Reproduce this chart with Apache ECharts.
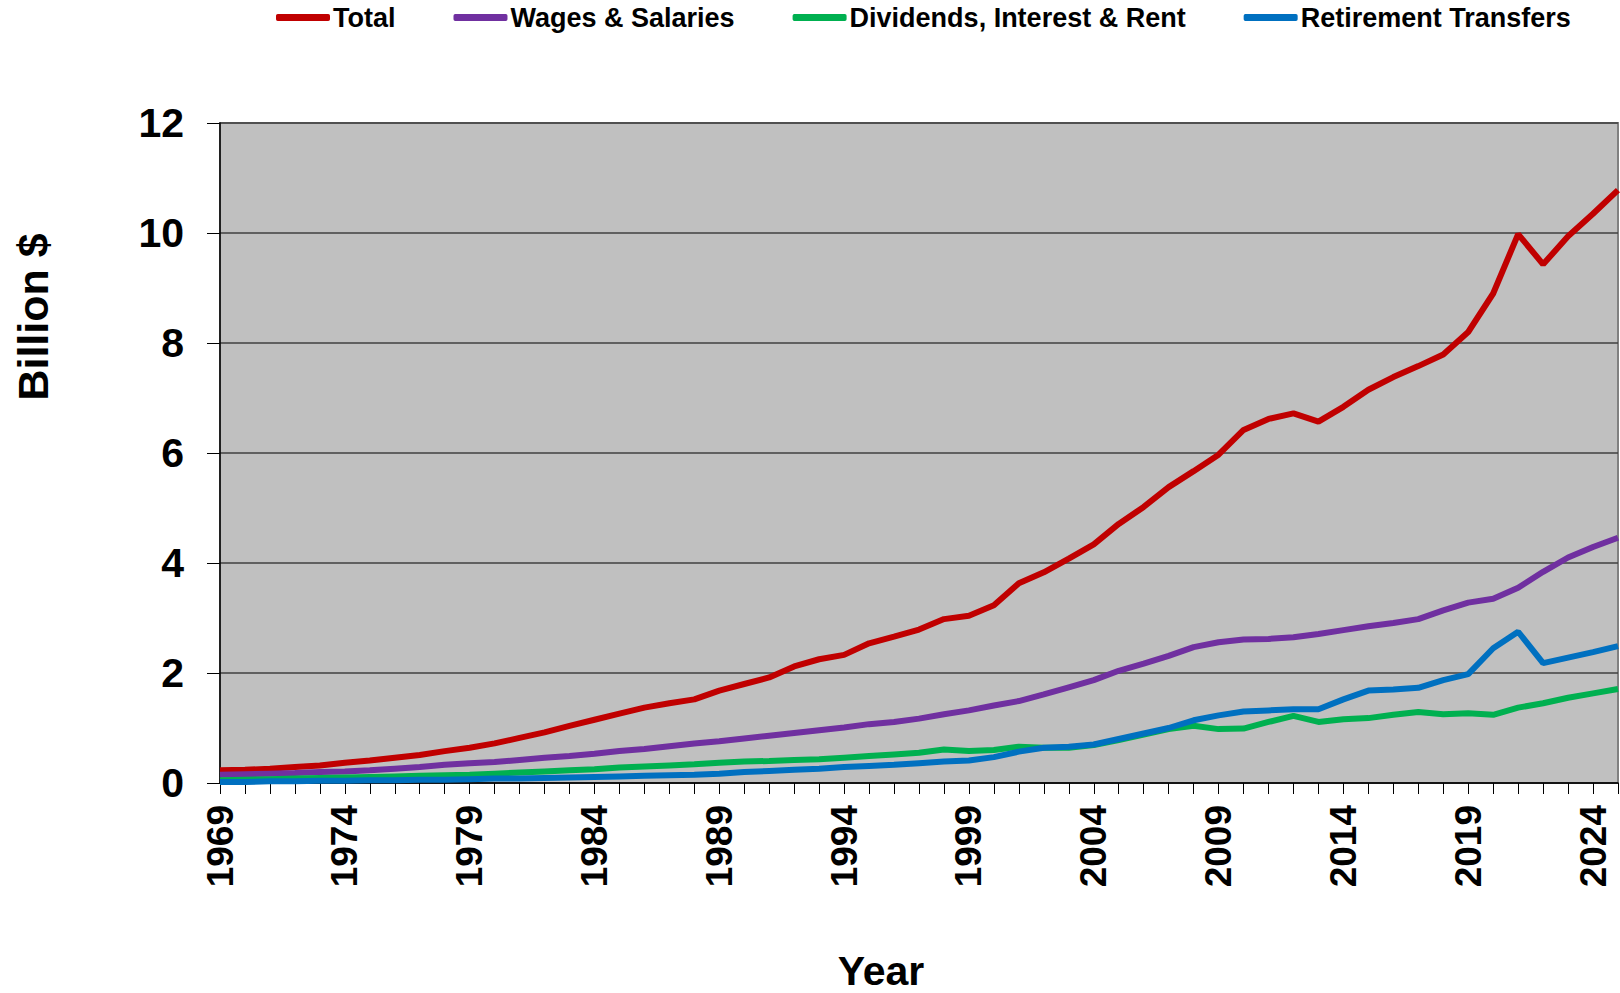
<!DOCTYPE html>
<html>
<head>
<meta charset="utf-8">
<style>
html,body{margin:0;padding:0;background:#fff;}
#chart{width:1620px;height:993px;}
</style>
<script src="https://cdn.jsdelivr.net/npm/echarts@6/dist/echarts.min.js"></script>
</head>
<body>
<div id="chart"></div>
<script>
const years = [];
for (let y = 1969; y <= 2025; y++) years.push(String(y));

const total = [0.23,0.24,0.26,0.29,0.32,0.37,0.41,0.46,0.51,0.58,0.64,0.72,0.82,0.92,1.04,1.15,1.26,1.37,1.45,1.52,
  1.68,1.80,1.92,2.12,2.25,2.33,2.54,2.66,2.79,2.98,3.04,3.23,3.63,3.83,4.08,4.34,4.71,5.02,5.38,5.67,
  5.97,6.42,6.62,6.72,6.57,6.84,7.15,7.38,7.58,7.79,8.20,8.90,9.98,9.43,9.94,10.35,10.78];
const wages = [0.15,0.16,0.17,0.18,0.20,0.21,0.23,0.26,0.29,0.33,0.36,0.38,0.42,0.46,0.49,0.53,0.58,0.62,0.67,0.72,
  0.76,0.81,0.86,0.91,0.96,1.01,1.07,1.11,1.17,1.25,1.32,1.41,1.49,1.61,1.74,1.87,2.04,2.17,2.31,2.47,
  2.56,2.61,2.62,2.65,2.71,2.78,2.85,2.91,2.98,3.14,3.28,3.35,3.55,3.84,4.10,4.29,4.46];
const dividends = [0.05,0.06,0.07,0.08,0.09,0.10,0.11,0.12,0.13,0.14,0.15,0.17,0.19,0.21,0.23,0.25,0.28,0.30,0.32,0.34,
  0.37,0.39,0.40,0.42,0.43,0.46,0.49,0.52,0.55,0.61,0.58,0.60,0.66,0.64,0.64,0.69,0.78,0.88,0.98,1.04,
  0.98,0.99,1.11,1.22,1.11,1.16,1.18,1.24,1.29,1.25,1.27,1.24,1.37,1.45,1.55,1.63,1.71];
const retirement = [0.02,0.02,0.03,0.03,0.04,0.04,0.05,0.05,0.06,0.06,0.07,0.08,0.08,0.09,0.10,0.11,0.12,0.13,0.14,0.15,
  0.17,0.20,0.22,0.24,0.26,0.29,0.31,0.33,0.36,0.39,0.41,0.47,0.57,0.64,0.66,0.70,0.80,0.90,1.00,1.14,
  1.23,1.30,1.32,1.34,1.34,1.52,1.68,1.70,1.73,1.87,1.98,2.45,2.75,2.18,2.28,2.38,2.49];

const seriesNames = ['Total','Wages & Salaries','Dividends, Interest & Rent','Retirement Transfers'];
const seriesColors = ['#C00000','#7030A0','#00B050','#0070C0'];
const seriesData = [total, wages, dividends, retirement];

const FONT = 'Liberation Sans, Arial, sans-serif';
const chart = echarts.init(document.getElementById('chart'), null, {renderer:'svg'});
chart.setOption({
  animation:false,
  backgroundColor:'#ffffff',
  textStyle:{fontFamily:FONT},
  legend:{
    top:4, left:276, padding:0,
    itemWidth:54, itemHeight:7, itemGap:58,
    icon:'roundRect',
    textStyle:{fontFamily:FONT,fontWeight:'bold',fontSize:27,color:'#000',padding:[0,0,0,-2]},
    data:seriesNames
  },
  grid:{left:220,right:2,top:123,bottom:210,show:true,backgroundColor:'#C0C0C0',borderColor:'#808080',borderWidth:2},
  xAxis:{
    type:'category', data:years, boundaryGap:false,
    axisLine:{lineStyle:{color:'#000',width:1.5}},
    axisTick:{show:true,interval:0,length:11,lineStyle:{color:'#000',width:1}},
    axisLabel:{interval:4,rotate:90,margin:22,fontFamily:FONT,fontWeight:'bold',fontSize:37,color:'#000'},
    splitLine:{show:false}
  },
  yAxis:{
    type:'value', min:0, max:12, interval:2,
    axisLine:{show:true,lineStyle:{color:'#000',width:1.5}},
    axisTick:{show:true,length:13,lineStyle:{color:'#000',width:1}},
    axisLabel:{margin:36,fontFamily:FONT,fontWeight:'bold',fontSize:41,color:'#000'},
    splitLine:{show:true,lineStyle:{color:'#404040',width:1.5}}
  },
  graphic:[
    {type:'text',x:881,y:971,style:{text:'Year',fontFamily:FONT,fontWeight:'bold',fontSize:41,fill:'#000',textAlign:'center',textVerticalAlign:'middle'}},
    {type:'text',x:33,y:317,rotation:Math.PI/2,style:{text:'Billion $',fontFamily:FONT,fontWeight:'bold',fontSize:43,fill:'#000',textAlign:'center',textVerticalAlign:'middle'}}
  ],
  series:seriesNames.map((n,i)=>({
    name:n, type:'line', data:seriesData[i],
    showSymbol:false, symbol:'none',
    lineStyle:{color:seriesColors[i],width:6},
    itemStyle:{color:seriesColors[i]}
  }))
});
</script>
</body>
</html>
